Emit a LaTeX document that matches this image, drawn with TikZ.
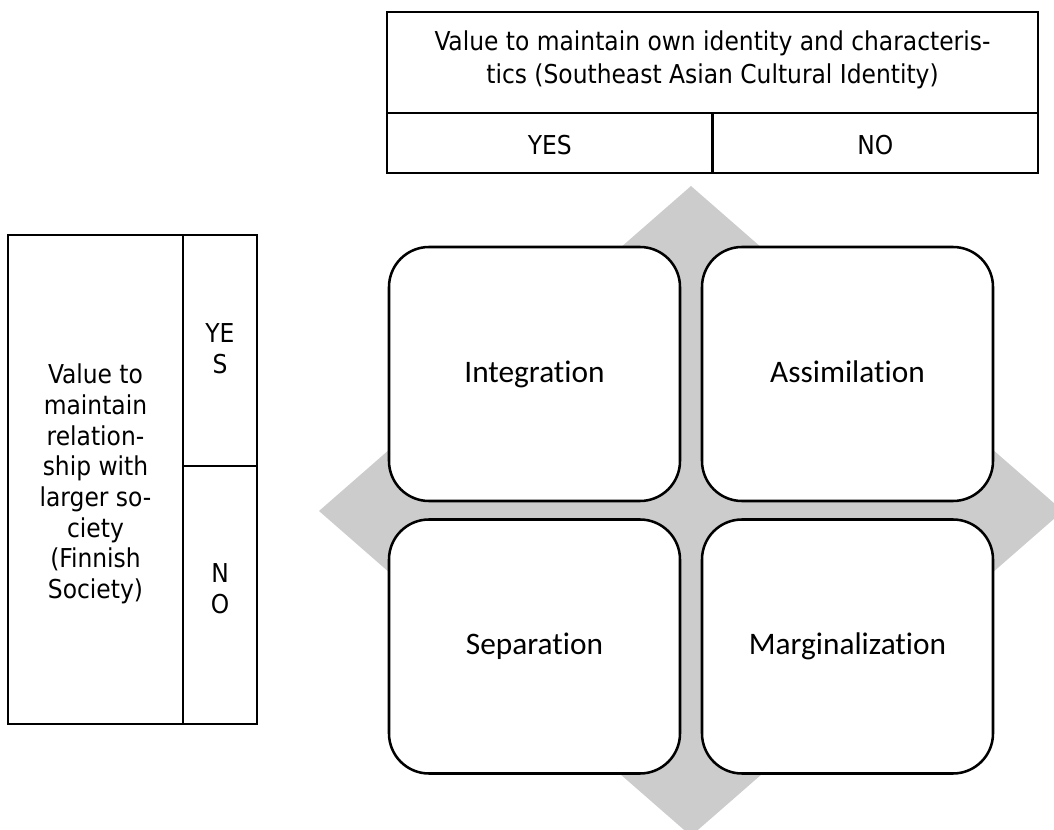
\documentclass[tikz,border=0pt]{standalone}
\usepackage{fontspec}
\setmainfont{DejaVu Sans Condensed}
\newfontfamily\boxfont[Ligatures=NoCommon]{Carlito}
\begin{document}
\begin{tikzpicture}[x=0.75pt,y=-0.75pt,
  rule/.style={draw=black,line width=1.9pt},
  celltext/.style={align=center,inner sep=0pt,font=\fontsize{19.5}{23}\selectfont},
  mode/.style={draw=black,line width=1.9pt,fill=white,rounded corners=30pt,
    minimum width=291*0.75pt,minimum height=254*0.75pt,inner sep=0pt,
    font=\boxfont\fontsize{23.5}{28}\selectfont}]
\useasboundingbox (0,0) rectangle (1054,830);

% grey diamond behind the four strategies
\begin{scope}
  \clip (0,0) rectangle (1054,830);
  \fill[black!20] (691,186) -- (1063,511) -- (691,836) -- (319,511) -- cycle;
\end{scope}

% heading table: own identity
\draw[rule] (387,12) rectangle (1038,173);
\draw[rule] (387,113) -- (1038,113);
\draw[rule] (712.5,113) -- (712.5,173);
\node[celltext] (idhead) at (712.5,60) {Value to maintain own identity and characteris-\\[2pt]tics (Southeast Asian Cultural Identity)};
\node[celltext] (idyes) at (549.75,145) {YES};
\node[celltext] (idno) at (875.25,145) {NO};

% side table: relationship with larger society
\draw[rule] (8,235) rectangle (257,724);
\draw[rule] (183,235) -- (183,724);
\draw[rule] (183,466) -- (257,466);
\node[celltext] (relhead) at (95.5,484) {Value to\\maintain\\relation-\\ship with\\larger so-\\ciety\\(Finnish\\Society)};
\node[celltext] (relyes) at (220,349) {YE\\S};
\node[celltext] (relno) at (220,589) {N\\O};

% acculturation strategies
\node[mode] (integ) at (534.5,374) {\raisebox{4pt}{Integration}};
\node[mode] (assim) at (847.5,374) {\raisebox{4pt}{Assimilation}};
\node[mode] (separ) at (534.5,646.5) {\raisebox{4pt}{Separation}};
\node[mode] (margi) at (847.5,646.5) {\raisebox{4pt}{Marginalization}};
\end{tikzpicture}
\end{document}
